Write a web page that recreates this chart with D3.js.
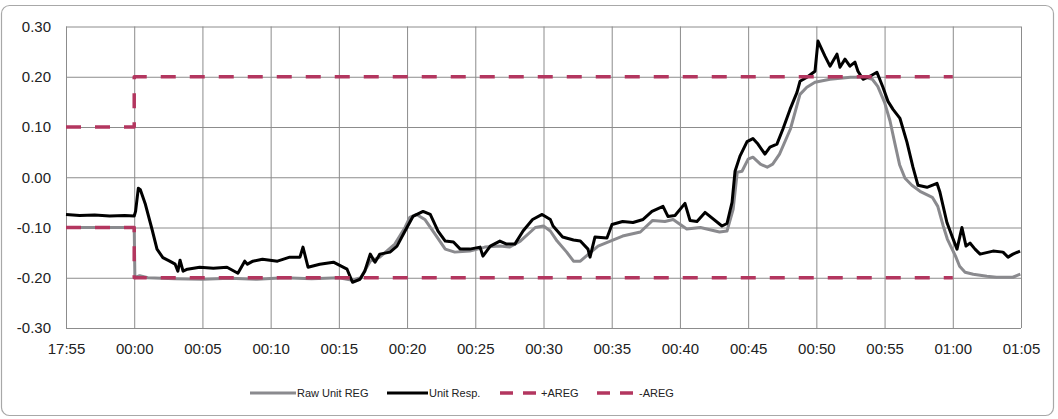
<!DOCTYPE html>
<html>
<head>
<meta charset="utf-8">
<script src="https://cdn.jsdelivr.net/npm/d3@7"></script>
<style>
  html, body { margin: 0; padding: 0; background: #fff; }
  svg { display: block; }
  text { font-family: "Liberation Sans", Arial, sans-serif; fill: #222; }
</style>
</head>
<body>
<svg id="chart" width="1058" height="419"></svg>
<script>
// ---- data (x = minutes from the first tick "17:55"; each tick step = 5) ----
const xTickLabels = ["17:55","00:00","00:05","00:10","00:15","00:20","00:25","00:30","00:35","00:40","00:45","00:50","00:55","01:00","01:05"];
const xTickMinutes = [0,5,10,15,20,25,30,35,40,45,50,55,60,65,70];
const yTicks = [0.30,0.20,0.10,0.00,-0.10,-0.20,-0.30];

const seriesNames = ["Raw Unit REG","Unit Resp.","+AREG","-AREG"];

const rawUnitReg = [
  [0,-0.100],[5.0,-0.100],[5.05,-0.200],[5.4,-0.196],[6,-0.200],[8,-0.202],[10,-0.203],[12,-0.201],[14,-0.203],
  [16,-0.200],[18,-0.202],[20,-0.200],[21,-0.205],[21.6,-0.200],[22.3,-0.167],[23.0,-0.159],[24.1,-0.133],
  [24.85,-0.100],[25.2,-0.080],[25.7,-0.074],[26.3,-0.084],[27.05,-0.113],[27.8,-0.143],[28.5,-0.149],
  [29.6,-0.147],[30.7,-0.139],[31.8,-0.137],[32.5,-0.139],[33.3,-0.127],[34.4,-0.100],[35.0,-0.097],
  [35.5,-0.107],[36.0,-0.127],[36.7,-0.149],[37.2,-0.167],[37.7,-0.167],[38.3,-0.153],[39.0,-0.137],
  [39.9,-0.127],[40.8,-0.117],[42.1,-0.109],[43.0,-0.086],[43.9,-0.088],[44.5,-0.084],[45.5,-0.103],
  [46.5,-0.100],[47.9,-0.109],[48.45,-0.107],[48.9,-0.064],[49.2,0.010],[49.55,0.012],[50.0,0.036],
  [50.35,0.040],[50.9,0.026],[51.4,0.020],[51.8,0.026],[52.3,0.046],[53.1,0.096],[53.8,0.165],
  [54.3,0.179],[54.9,0.189],[56.0,0.195],[57.5,0.199],[58.6,0.199],[59.1,0.195],[59.5,0.181],
  [60.0,0.149],[60.4,0.112],[60.75,0.068],[61.1,0.025],[61.5,-0.002],[62.0,-0.016],[62.6,-0.028],
  [63.5,-0.040],[63.9,-0.058],[64.3,-0.097],[64.6,-0.123],[65.2,-0.157],[65.5,-0.177],[65.9,-0.189],
  [66.5,-0.193],[67.5,-0.197],[68.2,-0.199],[69.4,-0.199],[69.95,-0.193]
];

const unitResp = [
  [0,-0.074],[1.0,-0.076],[2.1,-0.075],[3.2,-0.077],[4.3,-0.076],[5.0,-0.077],[5.1,-0.068],[5.3,-0.022],
  [5.45,-0.025],[5.8,-0.052],[6.3,-0.103],[6.67,-0.143],[7.1,-0.160],[7.6,-0.167],[8.0,-0.173],[8.2,-0.187],
  [8.36,-0.165],[8.58,-0.187],[8.9,-0.183],[9.8,-0.179],[10.8,-0.181],[11.8,-0.179],[12.6,-0.191],
  [13.1,-0.167],[13.3,-0.173],[13.7,-0.167],[14.4,-0.163],[15.5,-0.167],[16.4,-0.159],[17.15,-0.159],
  [17.37,-0.139],[17.74,-0.179],[18.6,-0.173],[19.6,-0.169],[20.6,-0.183],[21.0,-0.209],[21.55,-0.203],
  [21.9,-0.187],[22.3,-0.153],[22.65,-0.169],[23.0,-0.153],[23.75,-0.149],[24.26,-0.137],[24.85,-0.107],
  [25.43,-0.078],[26.17,-0.068],[26.7,-0.074],[27.27,-0.107],[27.8,-0.127],[28.4,-0.129],[28.9,-0.143],
  [29.6,-0.143],[30.35,-0.139],[30.56,-0.157],[31.1,-0.137],[31.8,-0.127],[32.3,-0.133],[32.9,-0.133],
  [33.5,-0.107],[34.2,-0.084],[34.9,-0.074],[35.5,-0.084],[35.7,-0.097],[36.4,-0.119],[37.2,-0.125],
  [37.7,-0.127],[38.26,-0.143],[38.41,-0.159],[38.77,-0.119],[39.65,-0.121],[40.02,-0.094],[40.8,-0.088],
  [41.56,-0.090],[42.3,-0.084],[42.95,-0.068],[43.76,-0.058],[44.12,-0.078],[44.64,-0.076],[45.37,-0.052],
  [45.74,-0.086],[46.25,-0.088],[46.84,-0.070],[48.08,-0.097],[48.45,-0.092],[48.82,-0.050],[49.04,0.012],
  [49.4,0.042],[49.92,0.071],[50.35,0.077],[50.72,0.066],[51.23,0.046],[51.6,0.060],[52.11,0.066],
  [52.55,0.096],[53.07,0.135],[53.58,0.169],[53.8,0.191],[54.31,0.199],[54.9,0.211],[55.12,0.271],
  [55.63,0.241],[56.0,0.221],[56.51,0.245],[56.73,0.219],[57.1,0.235],[57.46,0.221],[57.83,0.229],
  [58.05,0.211],[58.42,0.195],[58.93,0.201],[59.44,0.209],[59.88,0.179],[60.25,0.151],[60.62,0.135],
  [61.13,0.117],[61.64,0.070],[62.08,0.020],[62.45,-0.016],[63.11,-0.020],[63.84,-0.012],[64.06,-0.030],
  [64.57,-0.090],[64.94,-0.117],[65.31,-0.143],[65.67,-0.100],[65.97,-0.137],[66.26,-0.131],[66.63,-0.143],
  [67.0,-0.153],[67.95,-0.147],[68.68,-0.149],[69.05,-0.159],[69.41,-0.153],[69.93,-0.147]
];

const plusAreg = [[0,0.10],[5,0.10],[5,0.20],[65,0.20]];
const minusAreg = [[0,-0.10],[5,-0.10],[5,-0.20],[65,-0.20]];

// ---- drawing ----
const svg = d3.select("#chart");
const W = 1058, H = 419;
const m = {left: 66, right: 1021, top: 26.5, bottom: 328};

// outer frame
svg.append("rect").attr("x", 1.5).attr("y", 5.5).attr("width", W - 6).attr("height", H - 9)
  .attr("rx", 8).attr("fill", "#fff").attr("stroke", "#a8a8a8").attr("stroke-width", 1.2);

const x = d3.scaleLinear().domain([0, 70]).range([m.left, m.right]);
const y = d3.scaleLinear().domain([-0.3, 0.3]).range([m.bottom, m.top]);

const gridColor = "#8c8c8c";

// y axis + horizontal gridlines
const yAxis = svg.append("g").attr("transform", `translate(${m.left},0)`)
  .call(d3.axisLeft(y).tickValues(yTicks).tickFormat(d => d.toFixed(2))
        .tickSize(-(m.right - m.left)).tickPadding(15));
yAxis.select(".domain").remove();
yAxis.selectAll("line").attr("stroke", gridColor).attr("stroke-width", 1);
yAxis.selectAll("text").style("font-size", "15px").attr("fill", "#333");

// x axis + vertical gridlines
const xAxis = svg.append("g").attr("transform", `translate(0,${m.bottom})`)
  .call(d3.axisBottom(x).tickValues(xTickMinutes).tickFormat((d, i) => xTickLabels[i])
        .tickSize(-(m.bottom - m.top)).tickPadding(15));
xAxis.select(".domain").remove();
xAxis.selectAll("line").attr("stroke", gridColor).attr("stroke-width", 1);
xAxis.selectAll("text").style("font-size", "15px").attr("fill", "#333");

const line = d3.line().x(d => x(d[0])).y(d => y(d[1]));

const styles = [
  {data: rawUnitReg, color: "#8a8a8e", width: 3, dash: null},
  {data: unitResp, color: "#000", width: 3, dash: null},
  {data: plusAreg, color: "#b3365f", width: 3.5, dash: "15,14"},
  {data: minusAreg, color: "#b3365f", width: 3.5, dash: "15,14"}
];

styles.forEach(s => {
  svg.append("path").datum(s.data).attr("d", line)
    .attr("fill", "none").attr("stroke", s.color).attr("stroke-width", s.width)
    .attr("stroke-linejoin", "round")
    .attr("stroke-dasharray", s.dash);
});

// legend
const legendItems = [
  {x0: 250, x1: 296, tx: 297},
  {x0: 387, x1: 428, tx: 429},
  {x0: 500, x1: 540, tx: 541},
  {x0: 597, x1: 637, tx: 639}
];
const ly = 393;
legendItems.forEach((it, i) => {
  const s = styles[i];
  svg.append("line").attr("x1", it.x0).attr("x2", it.x1).attr("y1", ly).attr("y2", ly)
    .attr("stroke", s.color).attr("stroke-width", s.width)
    .attr("stroke-dasharray", s.dash ? "13,10" : null);
  svg.append("text").attr("x", it.tx).attr("y", ly).attr("dy", "0.35em")
    .style("font-size", "11px").attr("fill", "#333").text(seriesNames[i]);
});
</script>
</body>
</html>
